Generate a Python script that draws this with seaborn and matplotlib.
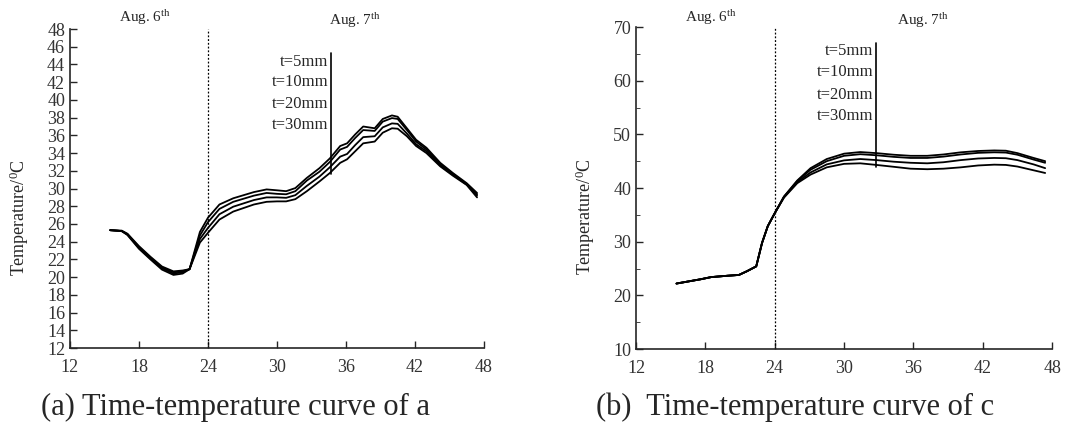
import numpy as np
import pandas as pd
import matplotlib
matplotlib.use("Agg")
import matplotlib.pyplot as plt
import seaborn as sns
from matplotlib.ticker import MultipleLocator

# data (hours from 0:00 Aug 6, temperature in degC)
labels = ["t=5mm", "t=10mm", "t=20mm", "t=30mm"]

hours_a = [15.5, 16.5, 17, 18, 19, 20, 21, 21.8, 22.4, 23.3, 24, 25, 26.2, 28, 29.1, 30,
           30.8, 31.6, 32.6, 33.7, 34.6, 35.5, 36.1, 36.8, 37.5, 38.5, 39.2, 40, 40.5,
           41.3, 42.1, 43, 44.2, 45.3, 46.5, 47.4]
a_5 = [25.3, 25.2, 24.75, 23.2, 22.0, 20.85, 20.25, 20.4, 20.9, 25.1, 26.7, 28.2, 28.9,
       29.6, 29.9, 29.8, 29.7, 30.05, 31.2, 32.3, 33.4, 34.8, 35.1, 36.1, 37.0, 36.8,
       37.85, 38.25, 38.1, 36.8, 35.5, 34.6, 32.9, 31.75, 30.6, 29.5]
a_10 = [25.3, 25.2, 24.8, 23.3, 22.1, 21.0, 20.4, 20.55, 20.9, 24.7, 26.2, 27.7, 28.5,
        29.2, 29.5, 29.4, 29.35, 29.7, 30.9, 31.9, 33.0, 34.4, 34.7, 35.7, 36.6, 36.5,
        37.55, 37.95, 37.85, 36.6, 35.3, 34.4, 32.75, 31.65, 30.5, 29.35]
a_20 = [25.3, 25.2, 24.85, 23.4, 22.2, 21.1, 20.55, 20.65, 20.9, 24.3, 25.55, 27.1, 27.95,
        28.7, 29.0, 29.0, 28.95, 29.25, 30.3, 31.35, 32.4, 33.6, 33.9, 34.9, 35.8, 35.9,
        36.9, 37.35, 37.3, 36.2, 35.0, 34.2, 32.6, 31.55, 30.45, 29.2]
a_30 = [25.3, 25.25, 24.9, 23.5, 22.3, 21.2, 20.65, 20.75, 20.9, 23.9, 25.0, 26.5, 27.4,
        28.2, 28.5, 28.55, 28.55, 28.8, 29.7, 30.8, 31.75, 32.9, 33.3, 34.2, 35.1, 35.3,
        36.3, 36.8, 36.75, 35.9, 34.8, 34.0, 32.5, 31.45, 30.4, 29.0]

hours_c = [15.5, 17.6, 18.5, 19.9, 20.9, 21.6, 22.4, 22.9, 23.4, 24, 24.8, 25.95, 27.1,
           28.5, 30, 31.4, 32.8, 34.3, 35.75, 37.2, 38.6, 40.1, 41.6, 43, 44, 45, 46.4, 47.4]
c_5 = [22.2, 23.0, 23.4, 23.65, 23.8, 24.5, 25.4, 29.75, 32.9, 35.3, 38.4, 41.4, 43.7,
       45.4, 46.4, 46.7, 46.5, 46.2, 46.0, 46.0, 46.25, 46.65, 46.9, 47.0, 46.95, 46.5,
       45.6, 45.0]
c_10 = [22.2, 23.0, 23.4, 23.65, 23.8, 24.5, 25.4, 29.75, 32.9, 35.3, 38.4, 41.3, 43.4,
        45.0, 46.0, 46.3, 46.1, 45.8, 45.6, 45.6, 45.85, 46.25, 46.55, 46.65, 46.6, 46.2,
        45.3, 44.7]
c_20 = [22.2, 23.0, 23.4, 23.65, 23.8, 24.5, 25.4, 29.75, 32.9, 35.3, 38.3, 41.1, 42.9,
        44.4, 45.15, 45.4, 45.2, 44.9, 44.7, 44.6, 44.8, 45.2, 45.5, 45.6, 45.55, 45.2,
        44.4, 43.7]
c_30 = [22.2, 23.0, 23.4, 23.65, 23.8, 24.5, 25.4, 29.75, 32.9, 35.3, 38.2, 40.9, 42.5,
        43.85, 44.5, 44.6, 44.3, 43.95, 43.6, 43.5, 43.6, 43.85, 44.2, 44.35, 44.3, 44.0,
        43.3, 42.8]


def long_df(hours, series):
    frames = []
    for lab, vals in zip(labels, series):
        frames.append(pd.DataFrame({"hour": hours, "temp": vals, "t": lab}))
    return pd.concat(frames, ignore_index=True)


df_a = long_df(hours_a, [a_5, a_10, a_20, a_30])
df_c = long_df(hours_c, [c_5, c_10, c_20, c_30])

sns.set_style("ticks")
plt.rcParams["font.family"] = ["Liberation Serif", "DejaVu Serif"]
plt.rcParams["mathtext.fontset"] = "custom"
plt.rcParams["mathtext.rm"] = "Liberation Serif"

fig = plt.figure(figsize=(10.88, 4.32), dpi=100)
ax1 = fig.add_axes([0.0643, 0.1944, 0.3805, 0.7384])
ax2 = fig.add_axes([0.5846, 0.1921, 0.3824, 0.7454])

pal = ["black"] * 4

for ax, df in [(ax1, df_a), (ax2, df_c)]:
    sns.lineplot(data=df, x="hour", y="temp", hue="t", palette=pal, legend=False,
                 estimator=None, sort=False, linewidth=1.3, ax=ax)
    ax.axvline(24, color="black", linestyle=(0, (1.5, 1.5)), linewidth=0.9)
    ax.set_xlim(12, 48)
    ax.xaxis.set_major_locator(MultipleLocator(6))
    ax.set_xlabel("")
    ax.set_ylabel("Temperature/$\\mathregular{^0}$C", fontsize=13)
    ax.yaxis.set_label_coords(-0.095, 0.41)
    ax.tick_params(direction="in", labelsize=13, labelcolor="#333333", length=5, width=1)
    ax.tick_params(axis="x", pad=8)
    ax.tick_params(which="minor", direction="in", length=3)
    sns.despine(ax=ax)
    for sp in ["left", "bottom"]:
        ax.spines[sp].set_linewidth(1.2)

ax1.set_ylim(12, 48)
ax1.yaxis.set_major_locator(MultipleLocator(2))
ax2.set_ylim(10, 70)
ax2.yaxis.set_major_locator(MultipleLocator(10))
ax2.yaxis.set_minor_locator(MultipleLocator(5))

# day markers
for ax, y6, y7 in [(ax1, 1.036, 1.026), (ax2, 1.03, 1.02)]:
    ax.text(18.5, y6, "Aug. 6$\\mathregular{^{th}}$", transform=ax.get_xaxis_transform(),
            ha="center", va="center", fontsize=11, clip_on=False)
    ax.text(36.8, y7, "Aug. 7$\\mathregular{^{th}}$", transform=ax.get_xaxis_transform(),
            ha="center", va="center", fontsize=11, clip_on=False)

# thickness labels with pointer line
ax1.plot([34.7, 34.7], [45.3, 31.6], color="black", linewidth=1.2)
for lab, y in zip(labels, [44.3, 42.0, 39.5, 37.2]):
    ax1.text(34.45, y, lab, ha="right", va="center", fontsize=12)

ax2.plot([32.8, 32.8], [67.0, 44.0], color="black", linewidth=1.2)
for lab, y in zip(labels, [65.5, 61.6, 57.4, 53.5]):
    ax2.text(32.55, y, lab, ha="right", va="center", fontsize=12)

fig.text(0.216, 0.057, "(a) Time-temperature curve of a", ha="center", va="center", fontsize=22)
fig.text(0.731, 0.057, "(b)  Time-temperature curve of c", ha="center", va="center", fontsize=22)

fig.savefig("out.png", dpi=100)
